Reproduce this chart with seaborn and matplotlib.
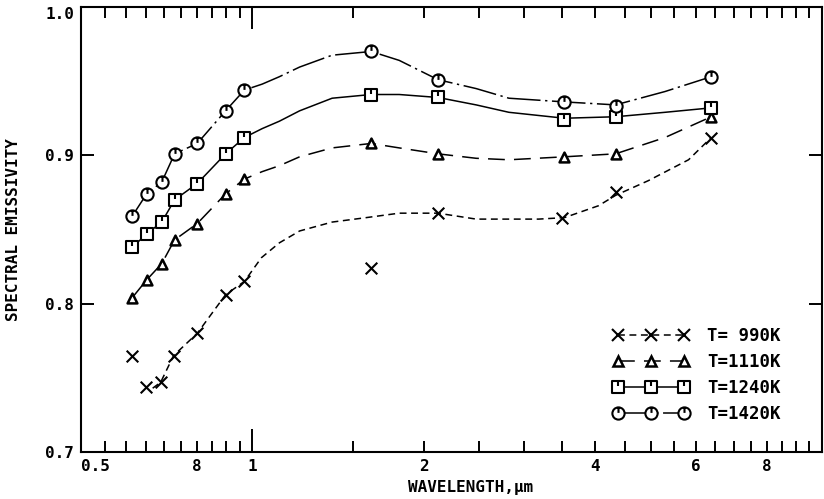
import matplotlib
matplotlib.use("Agg")
import matplotlib.pyplot as plt
from matplotlib.lines import Line2D
from matplotlib.path import Path
from matplotlib.ticker import FixedLocator, NullFormatter
import seaborn as sns

# measured points: wavelength (um) and spectral emissivity
wl = [0.615, 0.652, 0.693, 0.73, 0.80, 0.897, 0.968, 1.616, 2.117, 3.53, 4.34, 6.39]
wl_990 = [0.615, 0.650, 0.690, 0.727, 0.80, 0.897, 0.968, 1.616, 2.117, 3.50, 4.34, 6.39]
eps_990 = [0.765, 0.744, 0.747, 0.765, 0.780, 0.806, 0.815, 0.824, 0.861, 0.858, 0.875, 0.912]
eps_1110 = [0.804, 0.816, 0.827, 0.843, 0.854, 0.874, 0.884, 0.908, 0.901, 0.899, 0.901, 0.926]
eps_1240 = [0.838, 0.847, 0.855, 0.870, 0.881, 0.901, 0.912, 0.941, 0.939, 0.924, 0.926, 0.932]
eps_1420 = [0.859, 0.874, 0.882, 0.901, 0.908, 0.930, 0.944, 0.970, 0.951, 0.936, 0.933, 0.953]

# faired curves as drawn in the figure
wl_fit = [0.615, 0.652, 0.693, 0.73, 0.80, 0.897, 0.968, 1.04, 1.115, 1.21,
          1.38, 1.616, 1.81, 2.117, 2.47, 2.82, 3.53, 4.34, 5.3, 6.39]
fit_1110 = [0.804, 0.816, 0.827, 0.843, 0.854, 0.874, 0.884, 0.889, 0.893, 0.899,
            0.905, 0.908, 0.905, 0.901, 0.898, 0.897, 0.899, 0.901, 0.912, 0.926]
fit_1240 = [0.838, 0.847, 0.855, 0.870, 0.881, 0.901, 0.912, 0.918, 0.923, 0.930,
            0.9385, 0.941, 0.941, 0.939, 0.934, 0.929, 0.925, 0.926, 0.929, 0.932]
fit_1420 = [0.859, 0.874, 0.882, 0.901, 0.908, 0.930, 0.944, 0.948, 0.953, 0.9595,
            0.9675, 0.970, 0.964, 0.951, 0.945, 0.9385, 0.936, 0.934, 0.943, 0.953]
wl_fit_990 = [0.668, 0.690, 0.727, 0.80, 0.897, 0.968, 1.037, 1.115, 1.21, 1.38, 1.584,
              1.81, 2.117, 2.47, 3.18, 3.53, 4.05, 4.34, 4.96, 5.83, 6.39]
fit_990 = [0.743, 0.747, 0.765, 0.780, 0.806, 0.815, 0.831, 0.841, 0.849, 0.855, 0.858,
           0.861, 0.861, 0.857, 0.857, 0.858, 0.866, 0.873, 0.883, 0.897, 0.912]

labels = ["T= 990K", "T=1110K", "T=1240K", "T=1420K"]
xtick_vals = [0.5, 0.8, 1, 2, 4, 6, 8]
xtick_text = ["0.5", "8", "1", "2", "4", "6", "8"]
ytick_vals = [0.7, 0.8, 0.9, 1.0]

sns.set_style("ticks")
plt.rcParams["font.family"] = ["DejaVu Sans Mono"]
plt.rcParams["font.weight"] = "bold"
for key in ["text.color", "axes.labelcolor", "xtick.color", "ytick.color", "axes.edgecolor"]:
    plt.rcParams[key] = "black"

# plotter-style symbols: open circle / square with a small stroke from the top
circ_tick = Path.make_compound_path(Path.unit_circle(),
                                    Path([(0, 1), (0, 0.1)], [Path.MOVETO, Path.LINETO]))
sq = Path([(-1, -1), (1, -1), (1, 1), (-1, 1), (-1, -1)],
          [Path.MOVETO, Path.LINETO, Path.LINETO, Path.LINETO, Path.CLOSEPOLY])
sq_tick = Path.make_compound_path(sq, Path([(0, 1), (0, 0.1)], [Path.MOVETO, Path.LINETO]))

ls_990 = (0, (4.5, 3))
ls_1110 = (0, (11, 6))
ls_1240 = "-"
ls_1420 = (0, (22, 3, 1.5, 3))

fig = plt.figure(figsize=(8.24, 4.99), dpi=100)
ax = fig.add_axes([0.0983, 0.0942, 0.8993, 0.8918])
ax.set_xscale("log")

lw = 1.1
sns.lineplot(x=wl_fit_990, y=fit_990, ax=ax, color="black", lw=lw, linestyle=ls_990,
             sort=False, estimator=None)
sns.lineplot(x=wl_fit, y=fit_1110, ax=ax, color="black", lw=lw, linestyle=ls_1110,
             sort=False, estimator=None)
sns.lineplot(x=wl_fit, y=fit_1240, ax=ax, color="black", lw=lw, linestyle=ls_1240,
             sort=False, estimator=None)
sns.lineplot(x=wl_fit, y=fit_1420, ax=ax, color="black", lw=lw, linestyle=ls_1420,
             sort=False, estimator=None)

sns.scatterplot(x=wl_990, y=eps_990, ax=ax, marker="x", s=70, color="black",
                linewidth=1.5, zorder=4)
sns.scatterplot(x=wl, y=eps_1110, ax=ax, marker="^", s=50, facecolor="white",
                edgecolor="black", linewidth=1.8, zorder=4)
sns.scatterplot(x=wl, y=eps_1240, ax=ax, marker=sq_tick, s=72, facecolor="white",
                edgecolor="black", linewidth=1.5, zorder=4)
sns.scatterplot(x=wl, y=eps_1420, ax=ax, marker=circ_tick, s=78, facecolor="white",
                edgecolor="black", linewidth=1.5, zorder=4)

ax.set_xlim(0.5, 10)
ax.set_ylim(0.7, 1.0)

minor_x = [0.55, 0.6, 0.65, 0.7, 0.75, 0.85, 0.9, 0.95, 1.5, 2.5, 3, 3.5,
           4.5, 5, 5.5, 6.5, 7, 7.5, 8.5, 9, 9.5]
ax.xaxis.set_major_locator(FixedLocator(xtick_vals))
ax.xaxis.set_minor_locator(FixedLocator(minor_x))
ax.xaxis.set_minor_formatter(NullFormatter())
ax.set_xticks(xtick_vals)
ax.set_xticklabels(xtick_text)
ax.set_yticks(ytick_vals)
ax.set_yticklabels(["0.7", "0.8", "0.9", "1.0"])
ax.yaxis.set_minor_locator(FixedLocator([]))

ax.tick_params(axis="both", which="both", direction="in", top=True, right=True,
               width=1.4, colors="black", labelsize=11.5)
ax.tick_params(axis="x", which="both", length=8, pad=5)
ax.tick_params(axis="y", which="major", length=9.5, pad=5)
ax.get_xticklabels()[0].set_horizontalalignment("left")
ax.get_yticklabels()[-1].set_verticalalignment("top")

for sp in ax.spines.values():
    sp.set_linewidth(1.5)
    sp.set_color("black")

ax.set_xlabel("WAVELENGTH,\u03bcm", fontsize=11.5, fontweight="bold")
ax.set_ylabel("SPECTRAL EMISSIVITY", fontsize=11.5, fontweight="bold")
ax.xaxis.set_label_coords(0.526, -0.064)
ax.yaxis.set_label_coords(-0.081, 0.5)

handles = [
    Line2D([], [], color="black", marker="x", markersize=8.4, mew=1.5, lw=lw, linestyle=ls_990),
    Line2D([], [], color="black", marker="^", markersize=7, mew=1.8, mfc="white", lw=lw, linestyle=ls_1110),
    Line2D([], [], color="black", marker=sq_tick, markersize=8.5, mew=1.5, mfc="white", lw=lw, linestyle=ls_1240),
    Line2D([], [], color="black", marker=circ_tick, markersize=8.8, mew=1.5, mfc="white", lw=lw, linestyle=ls_1420),
]
ax.legend(handles, labels, loc="upper left", bbox_to_anchor=(0.718, 0.28), frameon=False,
          numpoints=3, handlelength=4.4, handletextpad=1.0, labelspacing=0.45,
          borderpad=0, borderaxespad=0, prop={"size": 12.5, "weight": "bold"})

# the decade tick at 1 um is drawn longer
for t in ax.xaxis.get_major_ticks():
    if abs(t.get_loc() - 1) < 1e-9:
        t.tick1line.set_markersize(16.5)
        t.tick2line.set_markersize(16)

fig.savefig("out.png", dpi=100, facecolor="white")
